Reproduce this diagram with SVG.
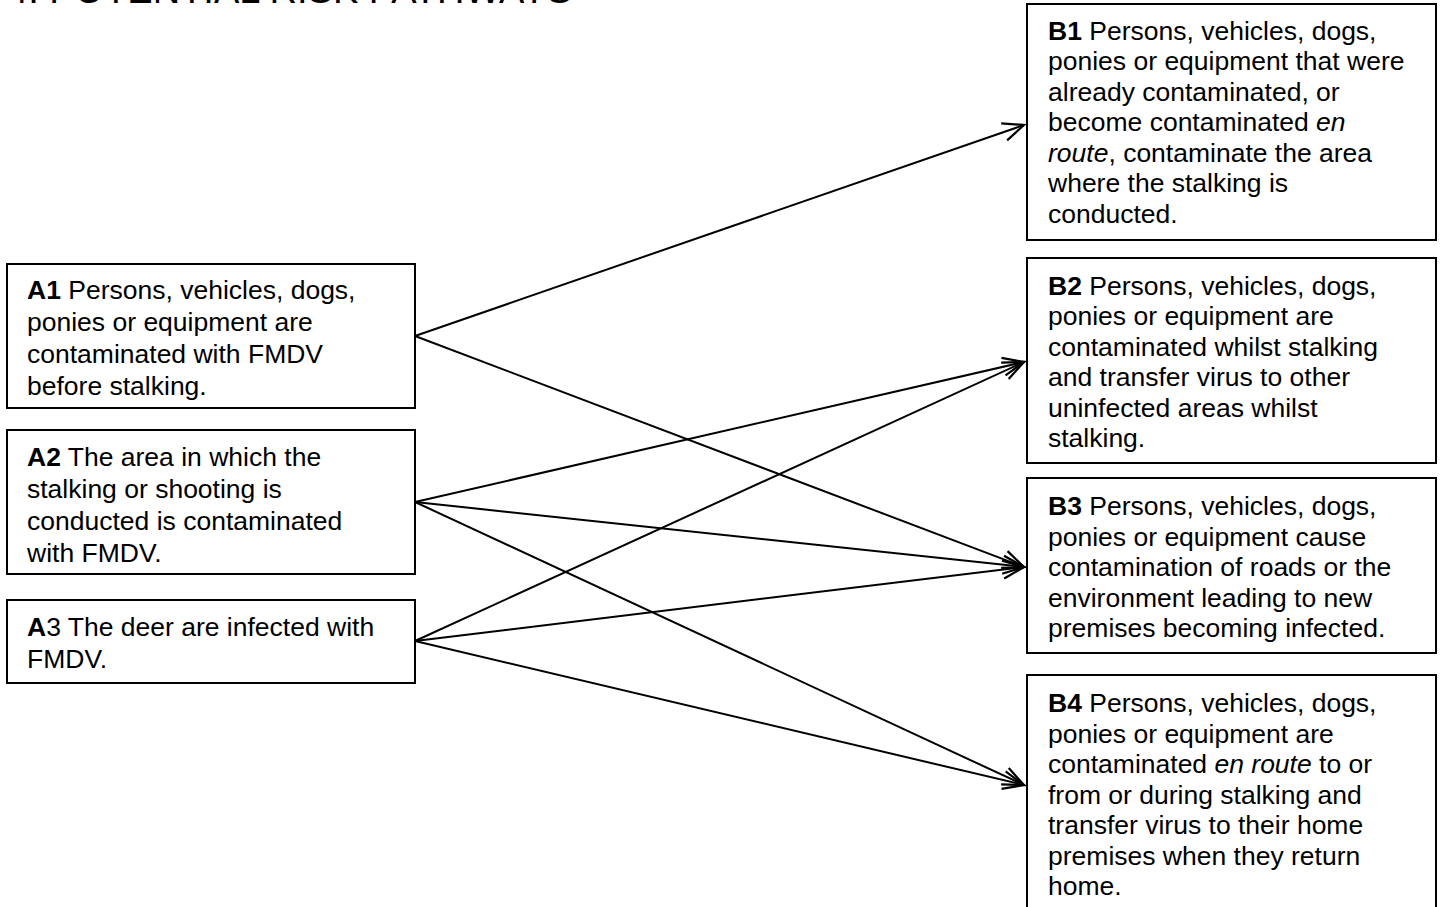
<svg xmlns="http://www.w3.org/2000/svg" width="1440" height="907" viewBox="0 0 1440 907">
<style>
  .box { fill: #ffffff; stroke: #000000; stroke-width: 2; }
  .t { font-family: "Liberation Sans", Arial, sans-serif; font-size: 26.5px; fill: #000000; }
  .b { font-weight: bold; }
  .i { font-style: italic; }
  .title { font-family: "Liberation Sans", Arial, sans-serif; font-size: 38px; fill: #000000; }
  .conn { stroke: #000000; stroke-width: 2; fill: none; marker-end: url(#arrow); }
</style>
<defs>
  <marker id="arrow" markerUnits="userSpaceOnUse" markerWidth="26" markerHeight="26" viewBox="0 0 26 26" refX="23" refY="13" orient="auto">
    <path d="M2,4 L23,13 L2,22" fill="none" stroke="#000000" stroke-width="2.2"/>
  </marker>
</defs>
<rect x="0" y="0" width="1440" height="907" fill="#ffffff"/>
<text class="title" x="7" y="3">4. POTENTIAL RISK PATHWAYS</text>

<g id="connectors">
  <line class="conn" x1="415" y1="336" x2="1024" y2="125"/>
  <line class="conn" x1="415" y1="336" x2="1024" y2="567"/>
  <line class="conn" x1="415" y1="502" x2="1024" y2="362"/>
  <line class="conn" x1="415" y1="502" x2="1024" y2="567"/>
  <line class="conn" x1="415" y1="502" x2="1024" y2="785"/>
  <line class="conn" x1="415" y1="641" x2="1024" y2="362"/>
  <line class="conn" x1="415" y1="641" x2="1024" y2="567"/>
  <line class="conn" x1="415" y1="641" x2="1024" y2="785"/>
</g>

<g id="A1">
  <rect class="box" x="7" y="264" width="408" height="144"/>
  <text class="t" x="27" y="299"><tspan class="b">A1</tspan> Persons, vehicles, dogs,<tspan x="27" dy="32">ponies or equipment are</tspan><tspan x="27" dy="32">contaminated with FMDV</tspan><tspan x="27" dy="32">before stalking.</tspan></text>
</g>

<g id="A2">
  <rect class="box" x="7" y="430" width="408" height="144"/>
  <text class="t" x="27" y="466"><tspan class="b">A2</tspan> The area in which the<tspan x="27" dy="32">stalking or shooting is</tspan><tspan x="27" dy="32">conducted is contaminated</tspan><tspan x="27" dy="32">with FMDV.</tspan></text>
</g>

<g id="A3">
  <rect class="box" x="7" y="600" width="408" height="83"/>
  <text class="t" x="27" y="636"><tspan class="b">A</tspan>3 The deer are infected with<tspan x="27" dy="32">FMDV.</tspan></text>
</g>

<g id="B1">
  <rect class="box" x="1027" y="4" width="409" height="236"/>
  <text class="t" x="1048" y="39.5"><tspan class="b">B1</tspan> Persons, vehicles, dogs,<tspan x="1048" dy="30.5">ponies or equipment that were</tspan><tspan x="1048" dy="30.5">already contaminated, or</tspan><tspan x="1048" dy="30.5">become contaminated <tspan class="i">en</tspan></tspan><tspan x="1048" dy="30.5"><tspan class="i">route</tspan>, contaminate the area</tspan><tspan x="1048" dy="30.5">where the stalking is</tspan><tspan x="1048" dy="30.5">conducted.</tspan></text>
</g>

<g id="B2">
  <rect class="box" x="1027" y="258" width="409" height="205"/>
  <text class="t" x="1048" y="294.5"><tspan class="b">B2</tspan> Persons, vehicles, dogs,<tspan x="1048" dy="30.5">ponies or equipment are</tspan><tspan x="1048" dy="30.5">contaminated whilst stalking</tspan><tspan x="1048" dy="30.5">and transfer virus to other</tspan><tspan x="1048" dy="30.5">uninfected areas whilst</tspan><tspan x="1048" dy="30.5">stalking.</tspan></text>
</g>

<g id="B3">
  <rect class="box" x="1027" y="478" width="409" height="175"/>
  <text class="t" x="1048" y="515"><tspan class="b">B3</tspan> Persons, vehicles, dogs,<tspan x="1048" dy="30.5">ponies or equipment cause</tspan><tspan x="1048" dy="30.5">contamination of roads or the</tspan><tspan x="1048" dy="30.5">environment leading to new</tspan><tspan x="1048" dy="30.5">premises becoming infected.</tspan></text>
</g>

<g id="B4">
  <rect class="box" x="1027" y="675" width="409" height="260"/>
  <text class="t" x="1048" y="712"><tspan class="b">B4</tspan> Persons, vehicles, dogs,<tspan x="1048" dy="30.5">ponies or equipment are</tspan><tspan x="1048" dy="30.5">contaminated <tspan class="i">en route</tspan> to or</tspan><tspan x="1048" dy="30.5">from or during stalking and</tspan><tspan x="1048" dy="30.5">transfer virus to their home</tspan><tspan x="1048" dy="30.5">premises when they return</tspan><tspan x="1048" dy="30.5">home.</tspan></text>
</g>
</svg>
